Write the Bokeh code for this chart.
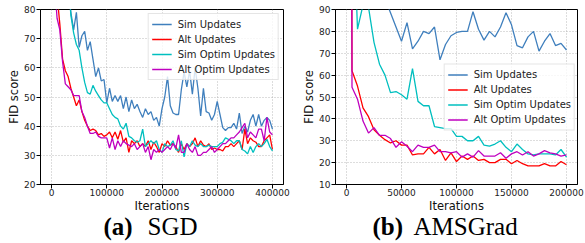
from bokeh.plotting import figure
from bokeh.layouts import row, column
from bokeh.models import Range1d, FixedTicker, BasicTickFormatter
from bokeh.core.properties import value
from bokeh.embed import file_html
from bokeh.resources import INLINE

# ---------------- data ----------------
SERIES = ["Sim Updates", "Alt Updates", "Sim Optim Updates", "Alt Optim Updates"]
COLORS = ["#3f7fbd", "#ff0000", "#00bfbf", "#bf00bf"]

# (a) SGD
ITER_A = list(range(5000, 400001, 5000))
SIM_A = [200, 160, 130, 110, 95, 86, 79, 73, 79, 67,
         71, 72.5, 66, 69, 63, 57, 60, 55.5, 56, 48,
         53, 48.5, 50.5, 48.5, 50.5, 46, 50, 45, 49, 46,
         47.5, 45, 43, 46, 44, 45, 42, 43, 40, 46,
         50, 57, 47, 44.5, 44, 44, 52.5, 58.5, 53.5, 59,
         51, 60, 53, 43.5, 53, 45, 44.5, 42, 44, 48.5,
         44, 39.5, 38.5, 39.5, 39.5, 41, 39, 44.5, 37.5, 40,
         38, 42, 44, 40, 44, 40, 42, 43, 42, 39]
ALT_A = [120, 85, 75, 63, 59, 57, 53, 50, 47, 49,
         45, 42, 40, 38.5, 39, 38.5, 37, 37.5, 36.5, 37,
         38, 36, 38, 35.5, 38.5, 34.5, 36, 31, 35, 34,
         35, 33, 34, 33, 35, 32, 34.5, 33, 31, 34,
         33, 35, 33.5, 34, 33, 31, 34, 32, 34, 33,
         34, 36, 33, 35, 33.5, 33, 34, 32, 32.5, 32,
         32, 31.5, 33, 33, 34, 33, 34, 35, 32, 39,
         34, 36, 35, 34.5, 33, 33, 35, 36, 37, 32]
SIMOPT_A = [250, 200, 160, 130, 110, 92, 78, 72, 68, 66,
            60, 55, 51.5, 51, 54, 52, 50.5, 49, 48, 48,
            46, 44, 43, 42.5, 40, 39, 41, 36.5, 36, 35,
            34.5, 35, 39, 33, 34, 35, 34, 35, 32, 31,
            34, 33, 33.5, 35, 32, 31.5, 35, 29.5, 34, 33,
            35, 33.5, 33, 34, 33, 33, 33.5, 33, 33, 33,
            34, 34.5, 36, 35.5, 35, 34, 35, 35, 32, 31.5,
            30.5, 33, 31, 33, 34, 33, 34, 35.5, 33, 31.5]
ALTOPT_A = [90, 77, 73, 62, 54.5, 53.5, 52.5, 50.5, 50.5, 50.5,
            45, 43, 40, 37.5, 37.5, 38, 36.5, 36, 36, 36,
            32.5, 36, 32, 35, 33, 35, 34, 33.5, 33, 34,
            32, 33, 34, 31, 33, 28.5, 32, 31, 32, 31,
            32, 33, 32, 34, 32.5, 37, 31, 31, 34, 32,
            31, 33, 30, 30, 31, 31, 32, 33, 31, 32,
            33, 34, 34, 35, 36, 36, 37, 38, 39.5, 41,
            36, 38, 37, 36, 39, 39, 35, 43, 38, 37]

# (b) AMSGrad
ITER_B = [4000] + list(range(5000, 200001, 5000))
SIM_B = [300, 200, 150, 130, 115, 105, 100, 95, 88.5, 82, 75.5,
         84, 72, 75.5, 80, 79, 82, 67, 74, 78, 79.5,
         80, 80, 89, 81, 76, 80, 77.5, 82, 88.5, 83,
         73.5, 72.5, 77.5, 80, 71, 75.5, 79, 73.5, 74.5, 71.5]
ALT_B = [300, 62, 55, 45, 41, 35, 32.5, 30.5, 29, 30, 28,
         28, 23.5, 24, 24, 27, 24, 26, 21, 24.5, 20.5,
         23, 21.5, 23, 21, 21.5, 20, 20, 21.5, 21.5, 19.5,
         21, 19.5, 18.5, 18.5, 18.5, 19.5, 18.5, 18.5, 20.5, 19]
SIMOPT_B = [300, 150, 81, 92, 91, 75, 65, 60, 52, 52.5, 51,
            49, 63, 48, 46, 46, 36.5, 36, 35.5, 35.5, 32,
            32, 30, 30, 32, 28, 27.5, 28.5, 30, 27, 25,
            28.5, 26, 24, 23.5, 24, 24, 24, 23.5, 26, 22.5]
ALTOPT_B = [300, 54.5, 49, 39, 33.5, 36, 32.5, 32.5, 31, 27, 29.5,
            27.5, 25, 28, 27, 27, 28, 25, 25, 24.5, 25,
            22.5, 24, 22.5, 25.5, 23, 23, 23, 24.5, 22, 24,
            25, 23.5, 25, 23, 24, 25.5, 24.5, 24, 23, 23.5]

XTICKS_A = [0, 100000, 200000, 300000, 400000]
YTICKS_A = [20, 30, 40, 50, 60, 70, 80]
XTICKS_B = [0, 50000, 100000, 150000, 200000]
YTICKS_B = [10, 20, 30, 40, 50, 60, 70, 80, 90]

CAPTION_TAGS = ["(a)", "(b)"]
CAPTION_NAMES = ["SGD", "AMSGrad"]

MAIN_H = 215
CAP_W = 585
CAP_H = 28


def make_panel(width, border_left, border_right, xr, yr, xticks, yticks,
               xs, series_vals, legend_loc, legend_margin):
    p = figure(width=width, height=MAIN_H, output_backend="svg", toolbar_location=None,
               x_range=Range1d(*xr), y_range=Range1d(*yr),
               min_border_left=border_left, min_border_right=border_right,
               min_border_top=9, min_border_bottom=30)
    p.background_fill_color = "white"
    p.border_fill_color = "white"
    p.outline_line_color = "black"
    p.outline_line_width = 1
    p.outline_line_alpha = 1

    for name, vals, col in zip(SERIES, series_vals, COLORS):
        p.line(xs, vals, line_color=col, line_width=1.3, legend_label=name)

    p.xaxis.ticker = FixedTicker(ticks=xticks)
    p.yaxis.ticker = FixedTicker(ticks=yticks)
    p.xaxis.formatter = BasicTickFormatter(use_scientific=False)
    p.xaxis.axis_label = "Iterations"
    p.yaxis.axis_label = "FID score"
    for ax in (p.xaxis[0], p.yaxis[0]):
        ax.axis_line_color = "black"
        ax.major_tick_line_color = "black"
        ax.major_tick_out = 4
        ax.major_tick_in = 0
        ax.minor_tick_line_color = None
        ax.major_label_text_font = "DejaVu Sans"
        ax.major_label_text_font_size = "9px"
        ax.major_label_text_color = "#222222"
        ax.axis_label_text_font = "DejaVu Sans"
        ax.axis_label_text_font_size = "11.5px"
        ax.axis_label_text_font_style = "normal"
        ax.axis_label_text_color = "#111111"
        ax.axis_label_standoff = 0
    p.xaxis[0].major_label_standoff = 0
    p.yaxis[0].major_label_standoff = 1
    p.grid.grid_line_color = "#a8a8a8"
    p.grid.grid_line_dash = "1 2"
    p.grid.grid_line_width = 0.8

    lg = p.legend[0]
    lg.location = legend_loc
    lg.margin = legend_margin
    lg.padding = 3
    lg.spacing = 1
    lg.glyph_width = 20
    lg.glyph_height = 14
    lg.label_height = 14
    lg.label_standoff = 6
    lg.label_text_font = "DejaVu Sans"
    lg.label_text_font_size = "10px"
    lg.label_text_color = "#222222"
    lg.border_line_color = "#cccccc"
    lg.border_line_width = 1
    lg.background_fill_alpha = 0.8
    return p


pa = make_panel(290, 40, 7, (-20000, 420000), (20, 80), XTICKS_A, YTICKS_A,
                ITER_A, [SIM_A, ALT_A, SIMOPT_A, ALTOPT_A], "top_right", 4)
pb = make_panel(295, 45, 8, (-10000, 210000), (10, 90), XTICKS_B, YTICKS_B,
                ITER_B, [SIM_B, ALT_B, SIMOPT_B, ALTOPT_B], "center_right", 2)

# caption strip: one figure whose frame is the whole strip (1 unit = 1 pixel)
cap = figure(width=CAP_W, height=CAP_H, output_backend="svg", toolbar_location=None,
             x_axis_type=None, y_axis_type=None,
             x_range=Range1d(0, CAP_W), y_range=Range1d(0, CAP_H),
             min_border=0, min_border_left=0, min_border_right=0,
             min_border_top=0, min_border_bottom=0)
cap.outline_line_color = None
cap.grid.visible = False
cap.background_fill_color = "white"
cap.border_fill_color = "white"
cap.text(x=[103, 372], y=[17.5, 17.5], text=CAPTION_TAGS, text_font=value("Liberation Serif"),
         text_font_style="bold", text_font_size="25px", text_baseline="middle",
         text_color="black")
cap.text(x=[147, 413], y=[17.5, 17.5], text=CAPTION_NAMES, text_font=value("Liberation Serif"),
         text_font_style="normal", text_font_size="25px", text_baseline="middle",
         text_color="black")

layout = column(row(pa, pb), cap)
open("out.html", "w").write(file_html(layout, INLINE))
